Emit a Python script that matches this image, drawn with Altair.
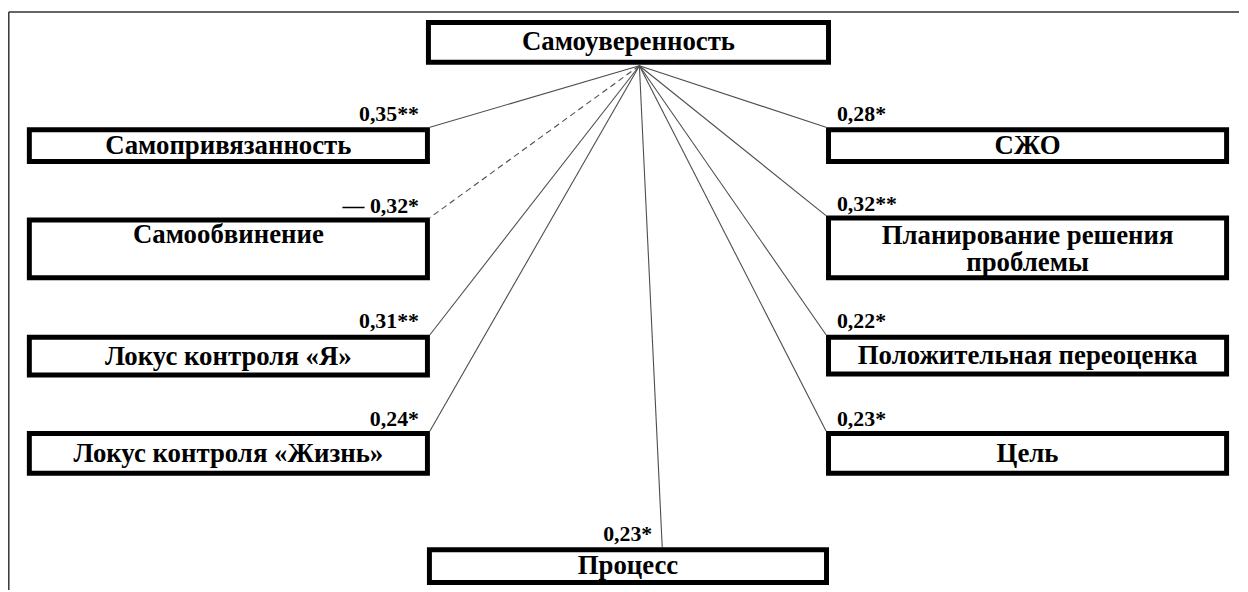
import altair as alt
import pandas as pd

# ---- content ----
hub_name = "Самоуверенность"
names = ["Самопривязанность", "Самообвинение", "Локус контроля «Я»", "Локус контроля «Жизнь»",
         "СЖО", "Планирование решения\nпроблемы", "Положительная переоценка", "Цель", "Процесс"]
coefs = ["0,35**", "— 0,32*", "0,31**", "0,24*", "0,28*", "0,32**", "0,22*", "0,23*", "0,23*"]
negative = [False, True, False, False, False, False, False, False, False]
side = ["left", "left", "left", "left", "right", "right", "right", "right", "bottom"]

# ---- layout (pixel positions of the figure) ----
box_x0 = [27, 27, 27, 27, 832, 832, 832, 832, 430]
box_x1 = [433, 433, 433, 433, 1238, 1238, 1238, 1238, 835]
box_y0 = [126, 217, 335, 432, 126, 215, 335, 432, 549]
box_y1 = [163, 280, 378, 477, 163, 280, 377, 477, 587]
text_y = [145, 235, 357, 455, 145, 235.5, 356, 455, 568]
end_x = [433, 433, 433, 433, 832, 832, 832, 832, 667]
end_y = [126, 217, 335, 432, 126, 215, 335, 432, 549]
lab_x = [422, 422, 422, 422, 843, 843, 843, 843, 657]
lab_y = [120, 212, 328, 427, 120, 210, 328, 427, 543]
hub_box = (429, 837, 18, 63)
hub_pt = (644, 64)

SW = 5
df = pd.DataFrame({
    "name": names, "coef": coefs, "neg": negative, "side": side,
    "bx0": [v + SW / 2 for v in box_x0], "bx1": [v - SW / 2 for v in box_x1],
    "by0": [v + SW / 2 for v in box_y0], "by1": [v - SW / 2 for v in box_y1],
    "tx": [(a + b) / 2 for a, b in zip(box_x0, box_x1)], "ty": text_y,
    "ex": end_x, "ey": end_y, "lx": lab_x, "ly": lab_y,
    "hx": [hub_pt[0]] * len(names), "hy": [hub_pt[1]] * len(names),
})
hub_df = pd.DataFrame({"name": [hub_name],
                       "bx0": [hub_box[0] + SW / 2], "bx1": [hub_box[1] - SW / 2],
                       "by0": [hub_box[2] + SW / 2], "by1": [hub_box[3] - SW / 2],
                       "tx": [(hub_box[0] + hub_box[1]) / 2], "ty": [(hub_box[2] + hub_box[3]) / 2]})
frame_df = pd.DataFrame({"x": [8.8, 8.8], "y": [10, 10], "x2": [8.8, 1248], "y2": [592, 10]})

X0, Y0 = 8, 8
W, H = 1232, 576
xs = alt.Scale(domain=[X0, X0 + W], nice=False, zero=False)
ys = alt.Scale(domain=[Y0, Y0 + H], nice=False, zero=False, reverse=True)

def X(f):
    return alt.X(f"{f}:Q", scale=xs, axis=None)

def Y(f):
    return alt.Y(f"{f}:Q", scale=ys, axis=None)

FONT = "'Liberation Serif', 'DejaVu Serif', serif"
BOX_FS = 27
LAB_FS = 22

frame = alt.Chart(frame_df).mark_rule(color="#333333", strokeWidth=1.5).encode(
    x=X("x"), y=Y("y"), x2="x2:Q", y2="y2:Q")

base = alt.Chart(df)
solid = base.transform_filter("!datum.neg").mark_rule(color="#4d4d4d", strokeWidth=1.1).encode(
    x=X("hx"), y=Y("hy"), x2="ex:Q", y2="ey:Q")
dashed = base.transform_filter("datum.neg").mark_rule(color="#4d4d4d", strokeWidth=1.1,
                                                       strokeDash=[6, 4]).encode(
    x=X("hx"), y=Y("hy"), x2="ex:Q", y2="ey:Q")

boxes = base.mark_rect(fill="white", stroke="black", strokeWidth=SW).encode(
    x=X("bx0"), x2="bx1:Q", y=Y("by0"), y2="by1:Q")
hub_rect = alt.Chart(hub_df).mark_rect(fill="white", stroke="black", strokeWidth=SW).encode(
    x=X("bx0"), x2="bx1:Q", y=Y("by0"), y2="by1:Q")

box_text = base.mark_text(font=FONT, fontSize=BOX_FS, fontWeight="bold", color="black",
                          align="center", baseline="middle", lineBreak="\n", lineHeight=27).encode(
    x=X("tx"), y=Y("ty"), text="name:N")
hub_text = alt.Chart(hub_df).mark_text(font=FONT, fontSize=BOX_FS, fontWeight="bold", color="black",
                                       align="center", baseline="middle").encode(
    x=X("tx"), y=Y("ty"), text="name:N")

lab_right = base.transform_filter("datum.side != 'right'").mark_text(
    font=FONT, fontSize=LAB_FS, fontWeight="bold", color="black", align="right",
    baseline="alphabetic").encode(x=X("lx"), y=Y("ly"), text="coef:N")
lab_left = base.transform_filter("datum.side == 'right'").mark_text(
    font=FONT, fontSize=LAB_FS, fontWeight="bold", color="black", align="left",
    baseline="alphabetic").encode(x=X("lx"), y=Y("ly"), text="coef:N")

chart = alt.layer(frame, solid, dashed, boxes, hub_rect, box_text, hub_text, lab_right, lab_left).properties(
    width=W, height=H, padding=0, background="white"
).configure_view(stroke=None)

chart.save("out.html", embed_options={"renderer": "svg", "actions": False})
